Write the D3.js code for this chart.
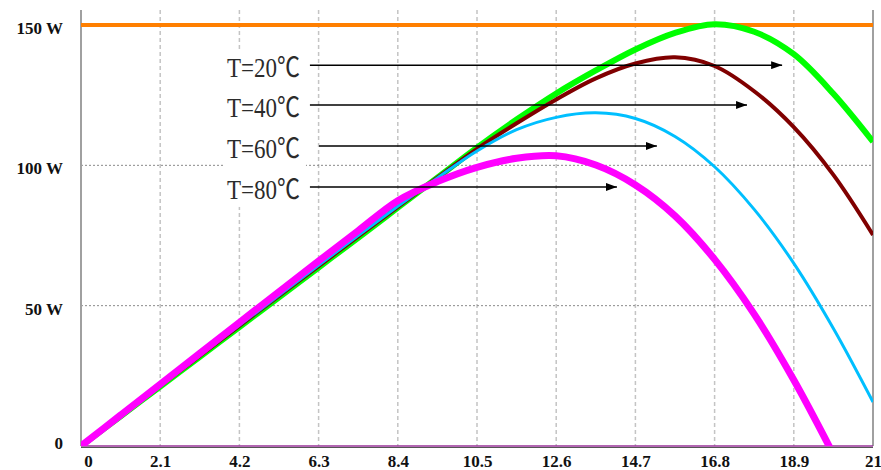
<!DOCTYPE html>
<html>
<head>
<meta charset="utf-8">
<script src="https://cdn.jsdelivr.net/npm/d3@7"></script>
<style>
  body { margin: 0; background: #fff; }
  svg { display: block; }
  .tick text { font-family: "Liberation Serif", "Times New Roman", serif; font-weight: bold; font-size: 17px; fill: #111; }
  .annot { font-family: "Liberation Serif", "Noto Sans CJK SC", serif; font-size: 27px; fill: #2b2b2b; }
</style>
</head>
<body>
<div id="graph"></div>
<script>
// voltage samples (V) and power per temperature (W)
var volts = [0, 1.05, 2.1, 3.15, 4.2, 5.25, 6.3, 7.35, 8.4, 9.45, 10.5,
             11.55, 12.6, 13.65, 14.7, 15.75, 16.8, 17.85, 18.9, 19.95, 21];

var powerT20 = [0, 10.6, 21.2, 31.8, 42.4, 53.0, 63.6, 74.2, 84.9, 95.6, 106.3,
                116.3, 125.6, 133.8, 141.3, 147.2, 150.3, 147.6, 139.6, 125.5, 108.4];
var powerT40 = [0, 10.7, 21.4, 32.1, 42.8, 53.5, 64.1, 74.7, 85.2, 95.6, 105.9,
                115.0, 123.5, 131.0, 136.3, 138.5, 135.4, 126.4, 113.6, 96.6, 75.2];
var powerT60 = [0, 10.8, 21.5, 32.3, 43.0, 53.7, 64.4, 75.0, 85.4, 95.5, 105.1,
                112.7, 117.1, 118.7, 116.7, 110.3, 99.5, 84.3, 65.1, 41.9, 15.7];
var powerT80 = [0, 11.0, 22.0, 33.0, 44.0, 55.0, 65.9, 76.7, 87.4, 94.2, 99.3,
                102.5, 103.4, 100.1, 93.0, 82.0, 66.5, 47.0, 23.5, -3.0];

var seriesNames  = ['T=20℃', 'T=40℃', 'T=60℃', 'T=80℃'];
var seriesColors = ['#00ff00', '#800000', '#00bfff', '#ff00ff'];
var seriesWidths = [6, 4, 3, 7];

var xTicks = [0, 2.1, 4.2, 6.3, 8.4, 10.5, 12.6, 14.7, 16.8, 18.9, 21];
var xTickLabels = ['0', '2.1', '4.2', '6.3', '8.4', '10.5', '12.6', '14.7', '16.8', '18.9', '21'];
var yTicks = [0, 50, 100, 150];
var yTickLabels = ['0', '50 W', '100 W', '150 W'];

var limitPower = 150;

// arrow annotations: start/end voltage, power level
var arrowStart = [6.07, 6.07, 6.31, 6.07];
var arrowEnd   = [18.59, 17.66, 15.27, 14.21];
var arrowLevel = [135.7, 121.5, 106.9, 92.3];
var labelVolt  = 3.87;

var margin = { top: 10, right: 8, bottom: 24, left: 81 };
var width  = 881 - margin.left - margin.right;
var height = 470 - margin.top - margin.bottom;

var xScale = d3.scaleLinear().domain([0, 21]).range([0, width]);
var yScale = d3.scaleLinear().domain([0, 155.35]).range([height, 0]);

var svg = d3.select('div#graph')
            .append('svg')
            .attr('width', 881)
            .attr('height', 470)
            .append('g')
            .attr('transform', 'translate(' + margin.left + ',' + margin.top + ')');

svg.append('defs').append('clipPath').attr('id', 'plotClip')
   .append('rect').attr('x', 0).attr('y', 0).attr('width', width).attr('height', height);

svg.append('defs').append('marker')
   .attr('id', 'arrowHead')
   .attr('viewBox', '0 0 11 8')
   .attr('refX', 11).attr('refY', 4)
   .attr('markerWidth', 11).attr('markerHeight', 8)
   .attr('markerUnits', 'userSpaceOnUse')
   .attr('orient', 'auto')
   .append('path').attr('d', 'M0,0 L11,4 L0,8 Z').attr('fill', '#000');

// vertical grid
svg.append('g').selectAll('line')
   .data(xTicks.slice(1, -1))
   .enter().append('line')
   .attr('x1', d => xScale(d)).attr('x2', d => xScale(d))
   .attr('y1', 0).attr('y2', height)
   .attr('stroke', '#c4c4c4').attr('stroke-width', 1.5)
   .attr('stroke-dasharray', '4,3');

// horizontal grid
svg.append('g').selectAll('line')
   .data([50, 100])
   .enter().append('line')
   .attr('x1', 0).attr('x2', width)
   .attr('y1', d => yScale(d)).attr('y2', d => yScale(d))
   .attr('stroke', '#8a8a8a').attr('stroke-width', 1)
   .attr('stroke-dasharray', '2,2');

// axes frame
svg.append('line').attr('x1', 0).attr('x2', 0).attr('y1', 0).attr('y2', height)
   .attr('stroke', '#a0a0a0').attr('stroke-width', 2);
svg.append('line').attr('x1', width).attr('x2', width).attr('y1', 0).attr('y2', height)
   .attr('stroke', '#a0a0a0').attr('stroke-width', 2);
svg.append('line').attr('x1', 0).attr('x2', width).attr('y1', height + 1.5).attr('y2', height + 1.5)
   .attr('stroke', '#555').attr('stroke-width', 1.2);

// 150 W limit
svg.append('line')
   .attr('x1', 0).attr('x2', width)
   .attr('y1', yScale(limitPower)).attr('y2', yScale(limitPower))
   .attr('stroke', '#ff7f00').attr('stroke-width', 4);

// zero line
svg.append('line')
   .attr('x1', 0).attr('x2', width)
   .attr('y1', yScale(0)).attr('y2', yScale(0))
   .attr('stroke', '#993399').attr('stroke-width', 1.5);

// curves
var allSeries = [powerT20, powerT40, powerT60, powerT80];
var line = d3.line()
             .x(d => xScale(d.v))
             .y(d => yScale(d.p))
             .curve(d3.curveCatmullRom.alpha(0.5));

var curves = svg.append('g').attr('clip-path', 'url(#plotClip)');
allSeries.forEach(function (vals, i) {
    var pts = vals.map((p, j) => ({ v: volts[j], p: p }));
    curves.append('path')
          .datum(pts)
          .attr('fill', 'none')
          .attr('stroke', seriesColors[i])
          .attr('stroke-width', seriesWidths[i])
          .attr('stroke-linejoin', 'round')
          .attr('d', line);
});

// annotation labels with white background
var baseOff = 12;
svg.append('rect')
   .attr('x', xScale(labelVolt) - 3)
   .attr('y', yScale(arrowLevel[0]) + baseOff - 26)
   .attr('width', 82)
   .attr('height', yScale(arrowLevel[3]) - yScale(arrowLevel[0]) + 34)
   .attr('fill', '#fff');

seriesNames.forEach(function (name, i) {
    svg.append('line')
       .attr('x1', xScale(arrowStart[i])).attr('x2', xScale(arrowEnd[i]))
       .attr('y1', yScale(arrowLevel[i])).attr('y2', yScale(arrowLevel[i]))
       .attr('stroke', '#000').attr('stroke-width', 1.5)
       .attr('marker-end', 'url(#arrowHead)');

    svg.append('text')
       .attr('class', 'annot')
       .attr('x', xScale(labelVolt))
       .attr('y', yScale(arrowLevel[i]) + baseOff)
       .attr('textLength', 73)
       .attr('lengthAdjust', 'spacingAndGlyphs')
       .text(name);
});

// tick labels
var xAxis = d3.axisBottom(xScale)
              .tickValues(xTicks)
              .tickSize(0)
              .tickPadding(9)
              .tickFormat((d, i) => xTickLabels[i]);
var gx = svg.append('g')
            .attr('transform', 'translate(0,' + height + ')')
            .call(xAxis);
gx.select('.domain').remove();
gx.selectAll('.tick text').filter(d => d === 0).attr('dx', 7);

var yAxis = d3.axisLeft(yScale)
              .tickValues(yTicks)
              .tickSize(0)
              .tickPadding(18)
              .tickFormat((d, i) => yTickLabels[i]);
var gy = svg.append('g').call(yAxis);
gy.select('.domain').remove();
gy.selectAll('.tick text').attr('dy', '0.5em');
gy.selectAll('.tick text').filter(d => d === 0).attr('dy', '0.15em');
</script>
</body>
</html>
